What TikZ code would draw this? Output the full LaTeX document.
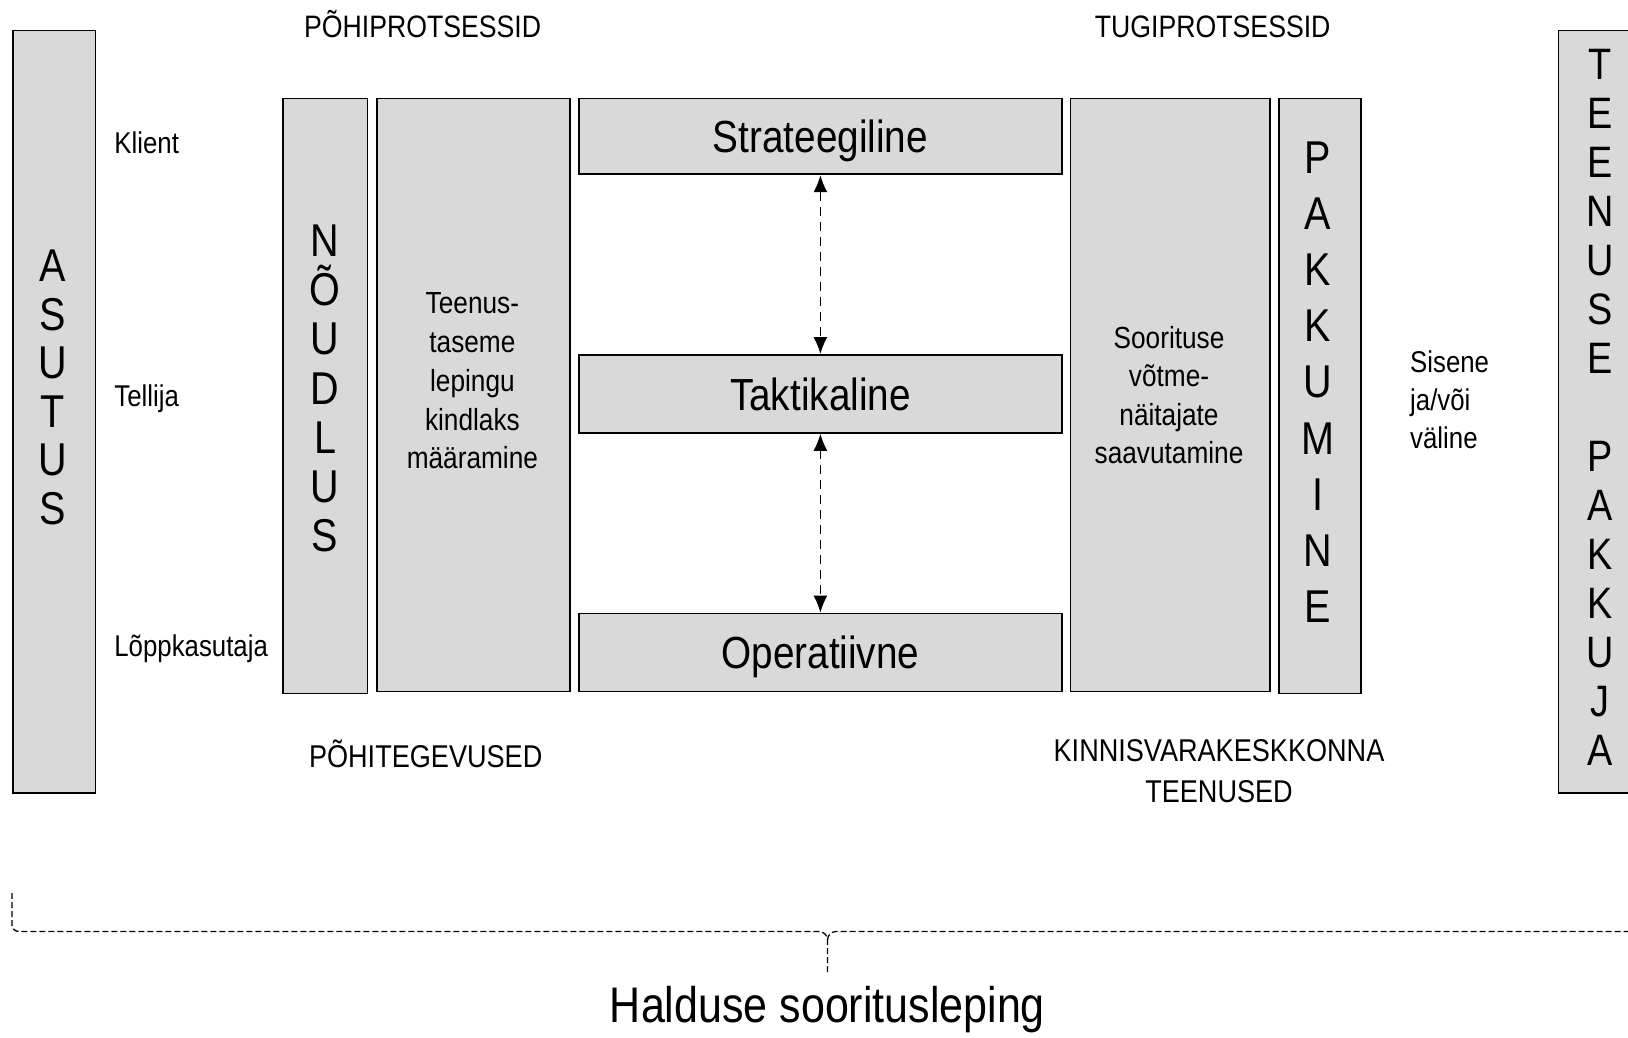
\documentclass[tikz,border=0pt]{standalone}
\usepackage{fontspec}
\setmainfont{Liberation Sans}[FakeStretch=0.86]
\usetikzlibrary{arrows.meta}
\definecolor{boxfill}{RGB}{217,217,217}
\newcommand{\fsz}[2]{\fontsize{#1pt}{#2pt}\selectfont}
\begin{document}
\begin{tikzpicture}[x=1pt,y=-1pt,
  box/.style={draw=black,fill=boxfill,line width=1.8pt,inner sep=0pt,anchor=north west},
  midbox/.style={box,font=\fsz{45}{54},text height=32.4pt,text depth=0pt},
  txt/.style={inner sep=0pt,text=black},
  stack/.style={txt,align=center},
  dasharrow/.style={dash pattern=on 9pt off 6pt,line width=1.4pt,
    {Latex[length=17pt,width=14pt]}-{Latex[length=17pt,width=14pt]}},
  bracestyle/.style={line width=1.3pt,dash pattern=on 6pt off 3pt}
]
\useasboundingbox (0,0) rectangle (1628,1037);

% boxes
\node[box,minimum width=82.5pt,minimum height=762.5pt] (asutus) at (12,29.5) {};
\node[box,minimum width=87.5pt,minimum height=762.5pt] (pakkuja) at (1557.5,29.5) {};
\node[box,minimum width=84.1pt,minimum height=594.9pt] (noudlus) at (282.4,97.6) {};
\node[box,minimum width=193.1pt,minimum height=592.9pt] (teenus) at (375.9,97.6) {};
\node[midbox,minimum width=483pt,minimum height=75.8pt] (strat) at (578,97.6) {Strateegiline};
\node[midbox,minimum width=483pt,minimum height=78pt] (takt) at (578,354) {Taktikaline};
\node[midbox,minimum width=483pt,minimum height=77.9pt] (oper) at (578,612.6) {Operatiivne};
\node[box,minimum width=199.3pt,minimum height=592.9pt] (sooritus) at (1069.5,97.6) {};
\node[box,minimum width=82pt,minimum height=594.9pt] (pakkumine) at (1278,97.6) {};

% stacked texts
\node[stack,font=\fsz{46}{48.6}] (asutusT) at (53,387.3) {A\\S\\U\\T\\U\\S};
\node[stack,font=\fsz{46}{49.1}] (noudT) at (325,388.4) {N\\Õ\\U\\D\\L\\U\\S};
\node[stack,font=\fsz{30.5}{38.7}] (teenT) at (472.4,381) {Teenus-\\taseme\\lepingu\\kindlaks\\määramine};
\node[stack,font=\fsz{30.5}{38.4}] (soorT) at (1169,395) {Soorituse\\võtme-\\näitajate\\saavutamine};
\node[stack,font=\fsz{46}{56.1}] (pakkT) at (1317.6,382.1) {P\\A\\K\\K\\U\\M\\I\\N\\E};
\node[stack,font=\fsz{44}{49}] (tpT) at (1600,407.5) {T\\E\\E\\N\\U\\S\\E\\\mbox{}\\P\\A\\K\\K\\U\\J\\A};

% labels
\node[txt,anchor=base,font=\fsz{31}{37}] (pohiP) at (422.6,37) {PÕHIPROTSESSID};
\node[txt,anchor=base,font=\fsz{31}{37}] (tugiP) at (1212.7,37) {TUGIPROTSESSID};
\node[txt,anchor=base west,font=\fsz{30}{36}] (klient) at (114.2,153) {Klient};
\node[txt,anchor=base west,font=\fsz{30}{36}] (tellija) at (114.2,406.4) {Tellija};
\node[txt,anchor=base west,font=\fsz{30}{36}] (lopp) at (114.2,656.6) {Lõppkasutaja};
\node[txt,anchor=base,font=\fsz{31.5}{37}] (pohiT) at (425.7,767) {PÕHITEGEVUSED};
\node[stack,font=\fsz{31.5}{40.5}] (kinn) at (1219,771) {KINNISVARAKESKKONNA\\TEENUSED};
\node[txt,align=left,anchor=west,font=\fsz{30}{37.8}] (sisene) at (1410,400) {Sisene\\ja/või\\väline};
\node[txt,anchor=base,font=\fsz{50}{60}] (halduse) at (827.5,1022) {Halduse sooritusleping};

% arrows
\draw[dasharrow] (strat.south) -- (takt.north);
\draw[dasharrow] (takt.south) -- (oper.north);

% brace
\draw[bracestyle] (12,893) -- (12,925) to[out=-90,in=180] (19,931.5) -- (819,931.5)
  to[out=0,in=90] (827.5,940) -- (827.5,975);
\draw[bracestyle] (827.5,940) to[out=90,in=180] (836,931.5) -- (1640,931.5);
\end{tikzpicture}
\end{document}
